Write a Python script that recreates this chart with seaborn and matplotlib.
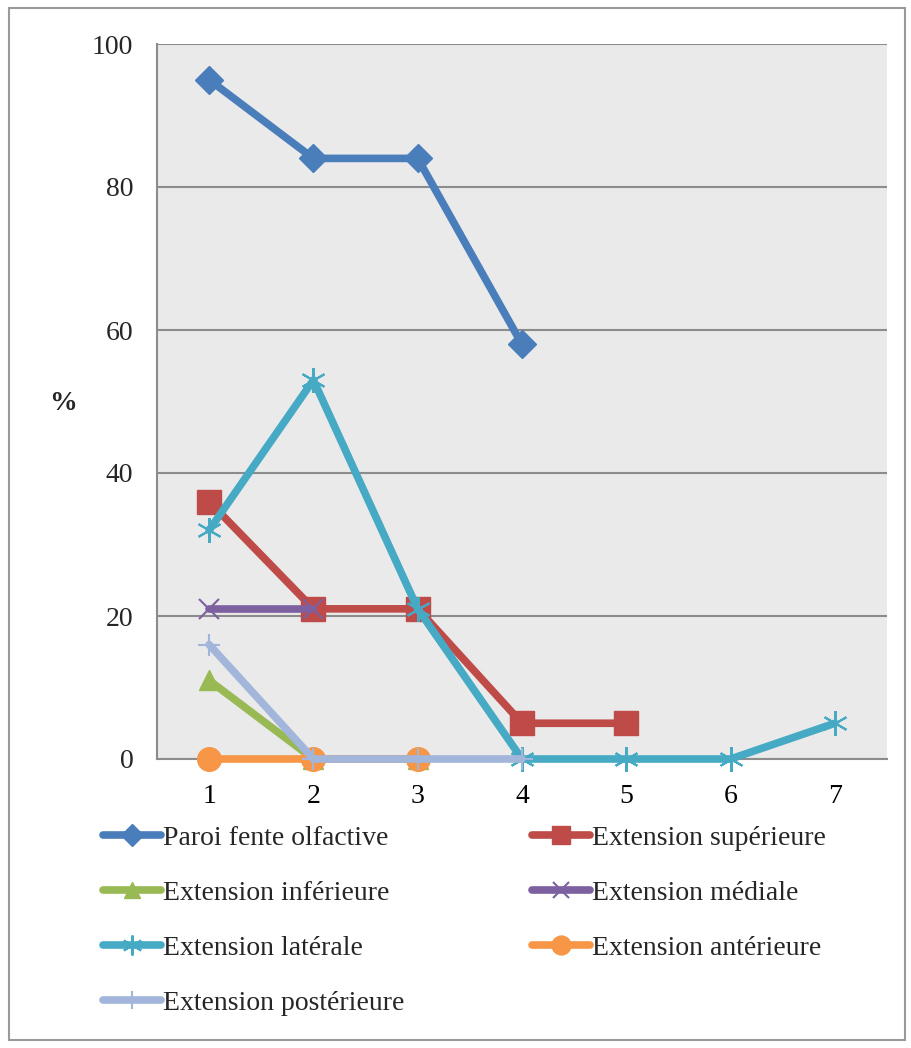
import matplotlib
matplotlib.use("Agg")
import matplotlib.pyplot as plt
import seaborn as sns
import numpy as np
from matplotlib.patches import Rectangle
from matplotlib.ticker import FixedLocator

sns.set_style("white")
plt.rcParams['font.family'] = ['Liberation Serif', 'DejaVu Serif']

# ---- data ----
categories = [1, 2, 3, 4, 5, 6, 7]
paroi = [95, 84, 84, 58]
ext_sup = [36, 21, 21, 5, 5]
ext_inf = [11, 0, 0]
ext_med = [21, 21]
ext_lat = [32, 53, 21, 0, 0, 0, 5]
ext_ant = [0, 0, 0]
ext_post = [16, 0, 0, 0]
labels = ["Paroi fente olfactive", "Extension supérieure", "Extension inférieure",
          "Extension médiale", "Extension latérale", "Extension antérieure",
          "Extension postérieure"]
yticks = [0, 20, 40, 60, 80, 100]

series = [paroi, ext_sup, ext_inf, ext_med, ext_lat, ext_ant, ext_post]
colors = ["#4A7EBB", "#BE4B48", "#98B954", "#7D60A0", "#46AAC5", "#F79646", "#A2B5DA"]
markers = ["D", "s", "^", "x", (6, 2, 0), "o", "+"]
msizes = [14, 17, 15, 15, 18, 17, 16]
mews = [1, 1, 1, 1.5, 1.5, 1, 1.5]

fig = plt.figure(figsize=(9.12, 10.48), dpi=100)
ax = fig.add_axes([157/912, 1-759/1048, (887-157)/912, (759-44)/1048])
ax.set_facecolor("#EAEAEA")

handles = []
for vals, lab, c, m, ms, mew in zip(series, labels, colors, markers, msizes, mews):
    xs = categories[:len(vals)]
    sns.lineplot(x=xs, y=vals, ax=ax, color=c, linewidth=5.5, marker=m,
                 markersize=ms, markeredgecolor=c, markeredgewidth=mew,
                 markerfacecolor=c, label=lab, legend=False, solid_capstyle="round",
                 clip_on=False, zorder=3)
    handles.append(ax.lines[-1])

ax.set_xlim(0.5, 7.5)
ax.set_ylim(0, 100)
ax.set_yticks(yticks)
ax.set_xticks(categories)
ax.xaxis.set_minor_locator(FixedLocator(np.arange(0.5, 8, 1)))
ax.tick_params(axis="x", which="major", length=0, pad=18, labelsize=20, colors="black")
ax.tick_params(axis="x", which="minor", length=7, width=1.5, color="#8C8C8C", direction="out")
ax.tick_params(axis="y", length=7, width=1.5, color="#8C8C8C", direction="out",
               pad=10, labelsize=20)
ax.yaxis.grid(True, color="#8C8C8C", linewidth=1.5)
ax.set_axisbelow(True)
for s in ["top", "right"]:
    ax.spines[s].set_visible(False)
for s in ["left", "bottom"]:
    ax.spines[s].set_color("#8C8C8C")
    ax.spines[s].set_linewidth(1.5)
    ax.spines[s].set_zorder(1)
ax.set_xlabel("")
ax.set_ylabel("")
fig.text(63/912, 1-403/1048, "%", fontsize=20, fontweight="bold", ha="center", va="center")

# legend: reorder so row-major reading matches
order = [0, 2, 4, 6, 1, 3, 5]
leg = fig.legend([handles[i] for i in order], [labels[i] for i in order],
                 ncol=2, loc="upper left", bbox_to_anchor=(92/912, 1-814/1048),
                 frameon=False, fontsize=20, handlelength=2.1, handletextpad=0.05,
                 labelspacing=1.07, columnspacing=4.6, borderaxespad=0, markerscale=0.8)

fig.patches.append(Rectangle((9/912, 8/1048), (905-9)/912, (1040-8)/1048,
                             transform=fig.transFigure, fill=False,
                             edgecolor="#999999", linewidth=1.5))
fig.savefig("out.png", dpi=100)
